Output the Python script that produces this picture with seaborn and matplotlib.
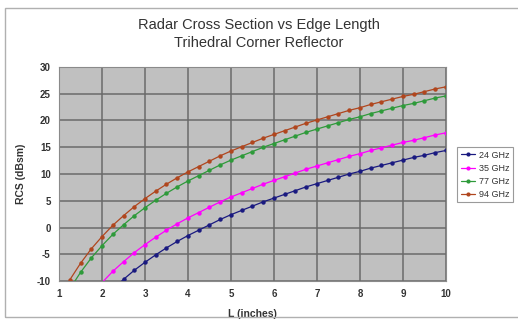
import numpy as np
import pandas as pd
import matplotlib
matplotlib.use("Agg")
import matplotlib.pyplot as plt
from matplotlib.patches import Rectangle
import seaborn as sns

# ---- data (L in inches, RCS in dBsm) ----
L_94 = [1.25, 1.5, 1.75, 2.0, 2.25, 2.5, 2.75, 3.0, 3.25, 3.5, 3.75, 4.0, 4.25, 4.5, 4.75, 5.0,
        5.25, 5.5, 5.75, 6.0, 6.25, 6.5, 6.75, 7.0, 7.25, 7.5, 7.75, 8.0, 8.25, 8.5, 8.75, 9.0,
        9.25, 9.5, 9.75, 10.0]
rcs_94 = [-9.8, -6.7, -4.0, -1.7, 0.4, 2.2, 3.9, 5.4, 6.8, 8.1, 9.3, 10.4, 11.4, 12.4, 13.4, 14.3,
          15.1, 15.9, 16.7, 17.4, 18.1, 18.8, 19.5, 20.1, 20.7, 21.3, 21.9, 22.4, 23.0, 23.5, 24.0, 24.5,
          24.9, 25.4, 25.9, 26.3]
L_77 = L_94
rcs_77 = [-11.5, -8.4, -5.7, -3.4, -1.3, 0.5, 2.2, 3.7, 5.1, 6.4, 7.6, 8.7, 9.7, 10.7, 11.7, 12.6,
          13.4, 14.2, 15.0, 15.7, 16.4, 17.1, 17.8, 18.4, 19.0, 19.6, 20.2, 20.7, 21.3, 21.8, 22.3, 22.8,
          23.2, 23.7, 24.2, 24.6]
L_35 = L_94[3:]
rcs_35 = [-10.3, -8.2, -6.4, -4.7, -3.2, -1.8, -0.5, 0.7, 1.8, 2.8, 3.8, 4.8, 5.7, 6.5, 7.3, 8.1,
          8.8, 9.5, 10.2, 10.9, 11.5, 12.1, 12.7, 13.3, 13.8, 14.4, 14.9, 15.4, 15.9, 16.3, 16.8, 17.3,
          17.7]
L_24 = L_94[4:]
rcs_24 = [-11.5, -9.7, -8.0, -6.5, -5.1, -3.8, -2.6, -1.5, -0.5, 0.5, 1.5, 2.4, 3.2, 4.0, 4.8, 5.5,
          6.2, 6.9, 7.6, 8.2, 8.8, 9.4, 10.0, 10.5, 11.1, 11.6, 12.1, 12.6, 13.1, 13.5, 14.0, 14.4]

series = ["24 GHz", "35 GHz", "77 GHz", "94 GHz"]
colors = ["#1a1a80", "#ff00ff", "#2e9a3a", "#b0461e"]
x_ticks = [1, 2, 3, 4, 5, 6, 7, 8, 9, 10]
y_ticks = [-10, -5, 0, 5, 10, 15, 20, 25, 30]

df = pd.concat([
    pd.DataFrame({"L": L_24, "RCS": rcs_24, "Freq": series[0]}),
    pd.DataFrame({"L": L_35, "RCS": rcs_35, "Freq": series[1]}),
    pd.DataFrame({"L": L_77, "RCS": rcs_77, "Freq": series[2]}),
    pd.DataFrame({"L": L_94, "RCS": rcs_94, "Freq": series[3]}),
], ignore_index=True)

sns.set_theme(style="whitegrid", rc={
    "axes.facecolor": "#c0c0c0",
    "grid.color": "#6a6a6a",
    "grid.linewidth": 1.1,
    "axes.edgecolor": "#8a8a8a",
})
plt.rcParams["font.family"] = ["Liberation Sans", "DejaVu Sans"]
plt.rcParams["axes.unicode_minus"] = False

W, H = 518, 326
fig = plt.figure(figsize=(W / 100, H / 100), dpi=100)
fig.patch.set_facecolor("white")

# outer chart frame
fig.add_artist(Rectangle((5 / W, 1 - 317 / H), (W - 4) / W, (317 - 8) / H,
                         transform=fig.transFigure, fill=False,
                         edgecolor="#b0b0b0", linewidth=1.0))

ax = fig.add_axes([59 / W, 1 - 281 / H, 387 / W, 214 / H])

sns.lineplot(data=df, x="L", y="RCS", hue="Freq", hue_order=series,
             palette=dict(zip(series, colors)), marker="o", markersize=3.2,
             markeredgewidth=0, linewidth=0.9, ax=ax, legend=False)

ax.set_xlim(1, 10)
ax.set_ylim(-10, 30)
ax.set_xticks(x_ticks)
ax.set_yticks(y_ticks)
ax.tick_params(axis="both", labelsize=7, length=3, width=0.8,
               direction="out", pad=3, colors="#555555", labelcolor="#333333")
for lbl in ax.get_xticklabels() + ax.get_yticklabels():
    lbl.set_fontweight("bold")
for s in ax.spines.values():
    s.set_color("#8a8a8a")
    s.set_linewidth(0.8)

ax.set_xlabel("L (inches)", fontsize=7.5, fontweight="bold", color="#333333", labelpad=7)
ax.set_ylabel("RCS (dBsm)", fontsize=7.5, fontweight="bold", color="#333333", labelpad=8)

fig.text(0.5, 1 - 34 / H, "Radar Cross Section vs Edge Length\nTrihedral Corner Reflector",
         ha="center", va="center", fontsize=10.5, color="#333333", linespacing=1.3)

handles = [plt.Line2D([0], [0], color=c, marker="o", markersize=3, markeredgewidth=0,
                      linewidth=0.9) for c in colors]
leg = fig.legend(handles, series, loc="upper left",
                 bbox_to_anchor=(457 / W, 1 - 147 / H), bbox_transform=fig.transFigure,
                 fontsize=6.5, frameon=True, fancybox=False, handlelength=1.6,
                 handletextpad=0.4, borderpad=0.4, labelspacing=0.45, borderaxespad=0,
                 facecolor="white", framealpha=1)
leg.get_frame().set_edgecolor("#9a9a9a")
leg.get_frame().set_linewidth(0.8)
for t in leg.get_texts():
    t.set_color("#333333")

fig.savefig("out.png", dpi=100, facecolor="white")
